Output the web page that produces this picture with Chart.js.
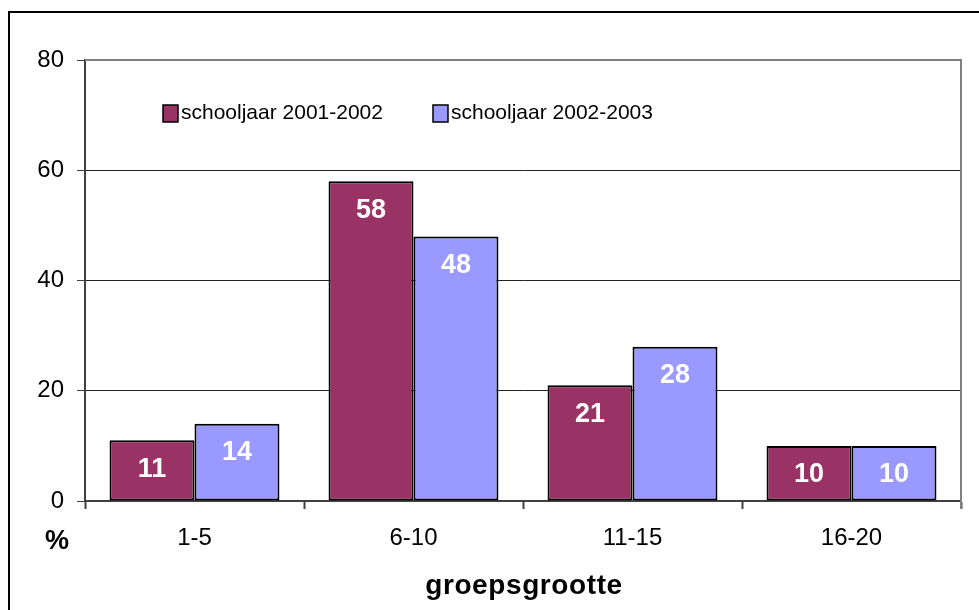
<!DOCTYPE html>
<html lang="nl">
<head>
<meta charset="UTF-8">
<title>groepsgrootte</title>
<script src="https://cdn.jsdelivr.net/npm/chart.js@4"></script>
<style>
  html, body { margin: 0; padding: 0; background: #fff; }
  #wrap { position: relative; width: 979px; height: 610px; }
</style>
</head>
<body>
<div id="wrap"><canvas id="chart" width="979" height="610"></canvas></div>
<script>
// Chart data
const categories = ['1-5', '6-10', '11-15', '16-20'];
const seriesNames = ['schooljaar 2001-2002', 'schooljaar 2002-2003'];
const values2001 = [11, 58, 21, 10];
const values2002 = [14, 48, 28, 10];
const yTicks = [0, 20, 40, 60, 80];

const colors = ['#993366', '#9999FF'];
const FONT = "'Liberation Sans', Arial, sans-serif";

// Outer frame, plot border, legend, axis title, "%" and bar labels
const decorations = {
  id: 'decorations',
  beforeDraw(chart) {
    const ctx = chart.ctx;
    ctx.save();
    ctx.fillStyle = '#fff';
    ctx.fillRect(0, 0, chart.width, chart.height);
    ctx.strokeStyle = '#000';
    ctx.lineWidth = 2;
    ctx.beginPath();
    ctx.moveTo(9, chart.height);
    ctx.lineTo(9, 12);
    ctx.lineTo(chart.width, 12);
    ctx.stroke();
    ctx.restore();
  },
  afterDraw(chart) {
    const ctx = chart.ctx;
    const area = chart.chartArea;
    ctx.save();
    // gray plot border top and right
    ctx.strokeStyle = '#808080';
    ctx.lineWidth = 2;
    ctx.beginPath();
    ctx.moveTo(area.left, area.top);
    ctx.lineTo(area.right, area.top);
    ctx.lineTo(area.right, area.bottom + 8);
    ctx.stroke();

    // bar labels
    ctx.fillStyle = '#fff';
    ctx.font = 'bold 27px ' + FONT;
    ctx.textAlign = 'center';
    ctx.textBaseline = 'middle';
    chart.data.datasets.forEach((ds, i) => {
      chart.getDatasetMeta(i).data.forEach((bar, j) => {
        ctx.fillText(String(ds.data[j]), bar.x, bar.y + 29);
      });
    });

    // legend
    const legendX = [163, 433];
    ctx.font = '21px ' + FONT;
    ctx.textAlign = 'left';
    seriesNames.forEach((name, i) => {
      ctx.fillStyle = colors[i];
      ctx.fillRect(legendX[i], 105, 15, 17);
      ctx.strokeStyle = '#000';
      ctx.lineWidth = 1.5;
      ctx.strokeRect(legendX[i], 105, 15, 17);
      ctx.fillStyle = '#000';
      ctx.fillText(name, legendX[i] + 18, 113);
    });

    // unit label
    ctx.font = 'bold 27px ' + FONT;
    ctx.textAlign = 'center';
    ctx.fillText('%', 57, 542);

    // x axis title (slightly spaced letters)
    ctx.font = 'bold 28px ' + FONT;
    ctx.letterSpacing = '0.6px';
    ctx.fillText('groepsgrootte', (area.left + area.right) / 2 + 1, 586);
    ctx.restore();
  }
};

new Chart(document.getElementById('chart'), {
  type: 'bar',
  data: {
    labels: categories,
    datasets: [
      {
        label: seriesNames[0],
        data: values2001,
        backgroundColor: colors[0],
        borderColor: '#000',
        borderWidth: 2,
        borderSkipped: false
      },
      {
        label: seriesNames[1],
        data: values2002,
        backgroundColor: colors[1],
        borderColor: '#000',
        borderWidth: 2,
        borderSkipped: false
      }
    ]
  },
  options: {
    responsive: false,
    animation: false,
    events: [],
    layout: { padding: { left: 0, right: 18, top: 60, bottom: 0 } },
    datasets: {
      bar: { categoryPercentage: 0.776, barPercentage: 1.0 }
    },
    plugins: {
      legend: { display: false },
      tooltip: { enabled: false },
      title: { display: false }
    },
    scales: {
      x: {
        offset: true,
        afterFit(scale) { scale.height = 109; },
        grid: {
          offset: true,
          drawOnChartArea: false,
          tickLength: 8,
          tickColor: '#404040',
          tickWidth: 2
        },
        border: { color: '#404040', width: 2 },
        ticks: {
          color: '#000',
          font: { family: FONT, size: 24 },
          padding: 15
        }
      },
      y: {
        min: 0,
        max: 80,
        afterFit(scale) { scale.width = 85; },
        afterBuildTicks(scale) {
          scale.ticks = yTicks.map(v => ({ value: v }));
        },
        grid: {
          color: ctx => (ctx.tick && ctx.tick.value === 80) ? '#808080' : '#222',
          lineWidth: 1,
          tickLength: 8,
          tickColor: '#404040'
        },
        border: { color: '#404040', width: 2 },
        ticks: {
          color: '#000',
          font: { family: FONT, size: 24 },
          padding: 13
        }
      }
    }
  },
  plugins: [decorations]
});
</script>
</body>
</html>
